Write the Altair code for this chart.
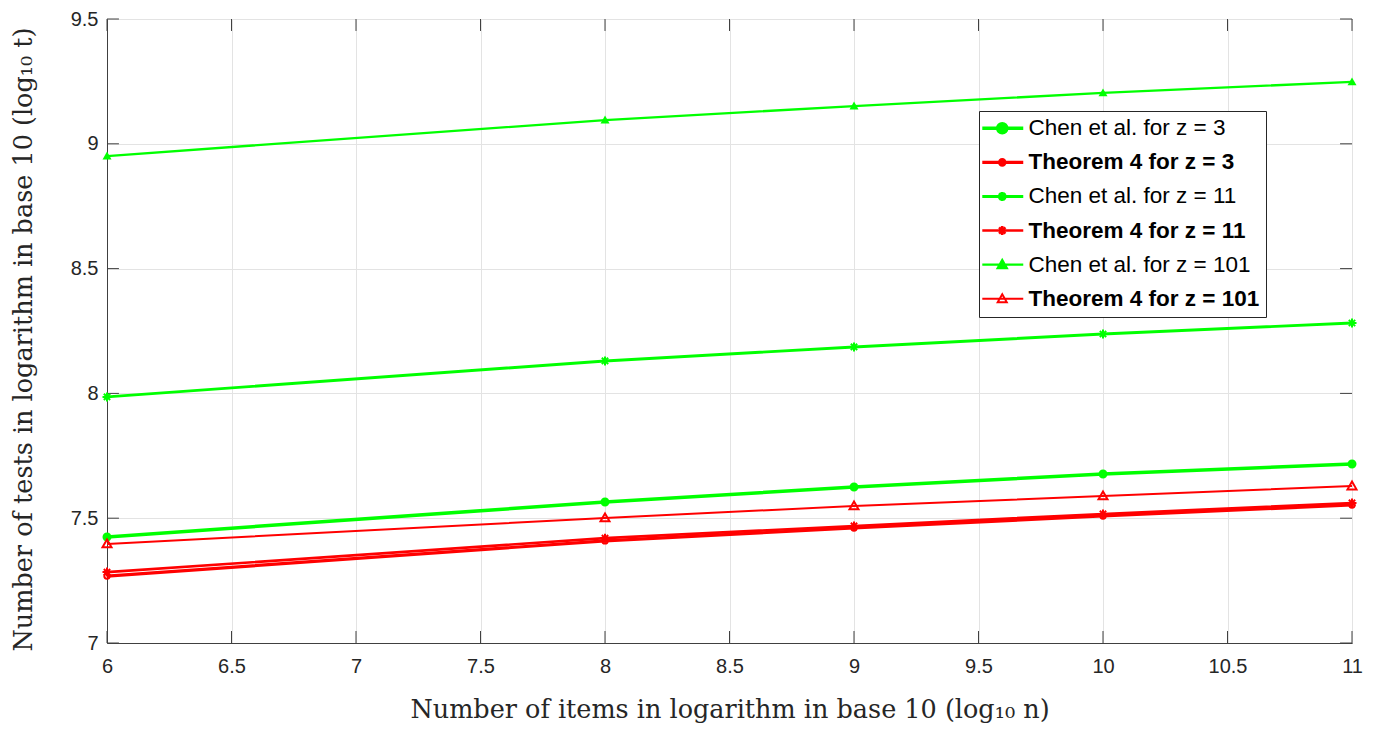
import altair as alt
import pandas as pd

x_vals = [6, 8, 9, 10, 11]
chen_z3 = [7.425, 7.565, 7.625, 7.677, 7.717]
thm_z3 = [7.268, 7.409, 7.461, 7.509, 7.553]
chen_z11 = [7.986, 8.130, 8.186, 8.238, 8.282]
thm_z11 = [7.284, 7.420, 7.469, 7.517, 7.561]
chen_z101 = [8.951, 9.095, 9.151, 9.204, 9.248]
thm_z101 = [7.397, 7.501, 7.549, 7.589, 7.629]

x_ticks = [6, 6.5, 7, 7.5, 8, 8.5, 9, 9.5, 10, 10.5, 11]
y_ticks = [7, 7.5, 8, 8.5, 9, 9.5]

series_names = [
    "Chen et al. for z = 3",
    "Theorem 4 for z = 3",
    "Chen et al. for z = 11",
    "Theorem 4 for z = 11",
    "Chen et al. for z = 101",
    "Theorem 4 for z = 101",
]
series_values = [chen_z3, thm_z3, chen_z11, thm_z11, chen_z101, thm_z101]
GREEN, RED = "#00ff00", "#ff0000"
colors = [GREEN, RED, GREEN, RED, GREEN, RED]
fills = [GREEN, "transparent", "transparent", "transparent", GREEN, "transparent"]
line_widths = [3.5, 2, 2, 2.6, 2, 2]

circle = "M-1,0A1,1 0 1,1 1,0A1,1 0 1,1 -1,0Z"
small_circle = "M-0.6,0A0.6,0.6 0 1,1 0.6,0A0.6,0.6 0 1,1 -0.6,0Z"
star = "M-1,0H1M0,-1V1M-0.7,-0.7L0.7,0.7M-0.7,0.7L0.7,-0.7"
tri = "M0,-1L1,0.75L-1,0.75Z"
markers = [circle, small_circle, star, star, tri, tri]

# legend symbols: a short line with the marker on it (marker shifted right)
lg_circle = "M-3.1,0H6M0.33,0A1,1 0 1,1 2.33,0A1,1 0 1,1 0.33,0Z"
lg_small = "M-3.1,0H6M0.73,0A0.6,0.6 0 1,1 1.93,0A0.6,0.6 0 1,1 0.73,0Z"
lg_star = "M-3.1,0H6M1.33,-1V1M0.63,-0.7L2.03,0.7M0.63,0.7L2.03,-0.7"
lg_tri = "M-3.1,0H6M1.33,-1L2.33,0.75L0.33,0.75Z"
legend_shapes = [lg_circle, lg_small, lg_star, lg_star, lg_tri, lg_tri]

rows = []
for name, vals in zip(series_names, series_values):
    for x, y in zip(x_vals, vals):
        rows.append({"x": x, "y": y, "series": name})
df = pd.DataFrame(rows)

X0, X1, Y0, Y1 = 6, 11, 7, 9.5
TX, TY = 0.048, 0.048  # inward tick length in data units (about 12 px)

xscale = alt.Scale(domain=[X0, X1], nice=False)
yscale = alt.Scale(domain=[Y0, Y1], nice=False, zero=False)

xaxis = alt.Axis(
    title="Number of items in logarithm in base 10 (log₁₀ n)",
    values=x_ticks,
    format="~g",
)
yaxis = alt.Axis(
    title="Number of tests in logarithm in base 10 (log₁₀ t)",
    values=y_ticks,
    format="~g",
    titleY=320,
)

legend_cfg = dict(
    title=None,
    orient="none",
    legendX=872,
    legendY=92,
    labelFont="Liberation Sans",
    labelFontSize=22.5,
    labelColor="#000000",
    labelFontWeight={"expr": "indexof(datum.label, 'Theorem') >= 0 ? 'bold' : 'normal'"},
    labelOffset=21,
    symbolSize=81,
    symbolOpacity=1,
    rowPadding=11.1,
    padding=6,
    strokeColor="#262626",
    fillColor="#ffffff",
    labelLimit=400,
)

color_scale = alt.Scale(domain=series_names, range=colors)
width_scale = alt.Scale(domain=series_names, range=line_widths)
color_enc = alt.Color("series:N", scale=color_scale, legend=alt.Legend(**legend_cfg))
width_enc = alt.StrokeWidth("series:N", scale=width_scale, legend=alt.Legend(**legend_cfg))

base = alt.Chart(df)

# inward tick marks (MATLAB style) built from the tick value lists
xt_rows = []
for v in x_ticks:
    xt_rows.append({"x": v, "x2": v, "y": Y0, "y2": Y0 + TY})
    xt_rows.append({"x": v, "x2": v, "y": Y1 - TY, "y2": Y1})
for v in y_ticks:
    xt_rows.append({"x": X0, "x2": X0 + TX, "y": v, "y2": v})
    xt_rows.append({"x": X1 - TX, "x2": X1, "y": v, "y2": v})
ticks = alt.Chart(pd.DataFrame(xt_rows)).mark_rule(color="#404040", strokeWidth=1).encode(
    x=alt.X("x:Q", scale=xscale),
    x2="x2:Q",
    y=alt.Y("y:Q", scale=yscale),
    y2="y2:Q",
)

lines = base.mark_line(clip=True).encode(
    x=alt.X("x:Q", scale=xscale, axis=xaxis),
    y=alt.Y("y:Q", scale=yscale, axis=yaxis),
    color=color_enc,
    strokeWidth=width_enc,
    detail="series:N",
)

point_layers = []
for name, shp, col, fl in zip(series_names, markers, colors, fills):
    filled = fl != "transparent"
    pl = (
        base.transform_filter(alt.datum.series == name)
        .mark_point(shape=shp, size=81, strokeWidth=2, filled=filled, opacity=1, color=col)
        .encode(
            x=alt.X("x:Q", scale=xscale),
            y=alt.Y("y:Q", scale=yscale),
        )
    )
    point_layers.append(pl)

legend_layer = base.transform_filter("false").mark_point(filled=False, size=81).encode(
    x=alt.X("x:Q", scale=xscale),
    y=alt.Y("y:Q", scale=yscale),
    color=color_enc,
    fill=alt.Fill("series:N", scale=alt.Scale(domain=series_names, range=fills),
                  legend=alt.Legend(**legend_cfg)),
    shape=alt.Shape("series:N", scale=alt.Scale(domain=series_names, range=legend_shapes),
                    legend=alt.Legend(**legend_cfg)),
    strokeWidth=width_enc,
)

chart = (
    alt.layer(ticks, lines, *point_layers, legend_layer)
    .properties(
        width=1245,
        height=624,
        autosize=alt.AutoSizeParams(type="none"),
        padding={"left": 99, "top": 11, "right": 25, "bottom": 80},
    )
    .configure_view(stroke="#404040", strokeWidth=1)
    .configure_axis(
        grid=True,
        gridColor="#e3e3e3",
        gridWidth=1,
        domainColor="#404040",
        ticks=False,
        labelFont="Liberation Sans",
        labelFontSize=20,
        labelColor="#262626",
        labelFlush=False,
        titleFont="DejaVu Serif",
        titleFontSize=25.5,
        titleFontWeight="normal",
        titleColor="#262626",
    )
    .configure_axisX(labelPadding=13, titlePadding=21)
    .configure_axisY(labelPadding=9, titlePadding=34)
)

chart.save("out.html", embed_options={"renderer": "svg", "actions": False})
